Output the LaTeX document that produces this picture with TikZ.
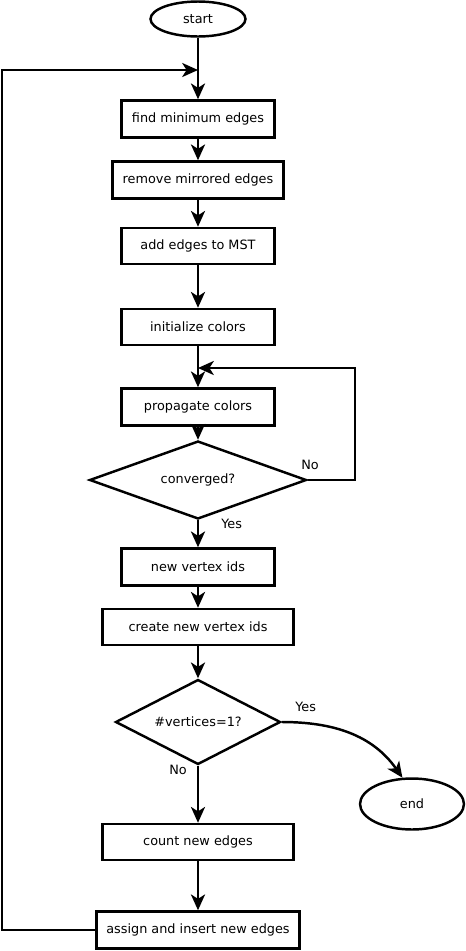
\documentclass[tikz,border=0pt]{standalone}
\usepackage{fontspec}
\setmainfont{DejaVu Sans}
\usetikzlibrary{shapes.geometric,arrows.meta}

\tikzset{
  box/.style={draw, line width=1.4pt, minimum width=#1, minimum height=0.74cm,
    inner sep=1pt, font=\fontsize{7.3}{8.6}\selectfont},
  box/.default=3.06cm,
  cond/.style={draw, diamond, line width=1.4pt, inner sep=0pt,
    font=\fontsize{7.3}{8.6}\selectfont},
  term/.style={draw, ellipse, line width=1.4pt, inner sep=0pt,
    font=\fontsize{7.3}{8.6}\selectfont},
  lbl/.style={inner sep=0pt, font=\fontsize{7.3}{8.6}\selectfont},
  flow/.style={line width=1.4pt, -{Stealth[length=9pt, width=8pt, inset=2.5pt]}},
}

\begin{document}
\begin{tikzpicture}[x=0.02cm, y=-0.02cm]

    \useasboundingbox (0,0) rectangle (466,951);

    % Knoten
    \node[term, minimum width=1.9cm, minimum height=0.7cm] (start) at (198,19) {start};

    \node[box] (find) at (198,119) {find minimum edges};
    \node[box=3.42cm] (mirror) at (198,180) {remove mirrored edges};
    \node[box, minimum height=0.72cm] (mst) at (198,246) {add edges to MST};
    \node[box, minimum height=0.72cm] (init) at (198,327) {initialize colors};
    \node[box] (prop) at (198,407) {propagate colors};

    \node[cond, aspect=2.8, minimum width=4.34cm, minimum height=1.56cm] (conv) at (198,480) {converged?};

    \node[box] (newid) at (198,567) {new vertex ids};
    \node[box=3.82cm, minimum height=0.72cm] (create) at (198,627) {create new vertex ids};

    \node[cond, aspect=1.96, minimum width=3.3cm, minimum height=1.7cm] (single) at (198,722) {\#vertices=1?};

    \node[term, minimum width=2.08cm, minimum height=1.02cm] (end) at (412,804) {end};

    \node[box=3.82cm, minimum height=0.72cm] (count) at (198,842) {count new edges};
    \node[box=4.06cm] (assign) at (198,930) {assign and insert new edges};

    % Hilfspunkte
    \coordinate (outerin) at (198,70);
    \coordinate (outerleft) at (2,70);
    \coordinate (innerin) at (198,368);
    \coordinate (innerright) at (355,368);

    % Verbindungen
    \draw[flow] (start) -- (find);
    \draw[flow] (find) -- (mirror);
    \draw[flow] (mirror) -- (mst);
    \draw[flow] (mst) -- (init);
    \draw[flow] (init) -- (prop);
    \draw[flow] (prop) -- (conv);
    \draw[flow] (conv) -- (newid);
    \draw[flow] (newid) -- (create);
    \draw[flow] (create) -- (single);
    \draw[flow] (single) -- (count);
    \draw[flow] (count) -- (assign);

    \draw[flow] (single.east) to[out=0, in=125] (end.110);

    % Schleifen
    \draw[flow] (conv.east) -| (innerright) -- (innerin);
    \draw[flow] (assign.west) -| (outerleft) -- (outerin);

    % Beschriftungen
    \node[lbl, anchor=west] (convno) at (301,465) {No};
    \node[lbl, anchor=west] (convyes) at (221,524) {Yes};
    \node[lbl, anchor=west] (singleyes) at (295,707) {Yes};
    \node[lbl, anchor=west] (singleno) at (169,770) {No};

\end{tikzpicture}
\end{document}
